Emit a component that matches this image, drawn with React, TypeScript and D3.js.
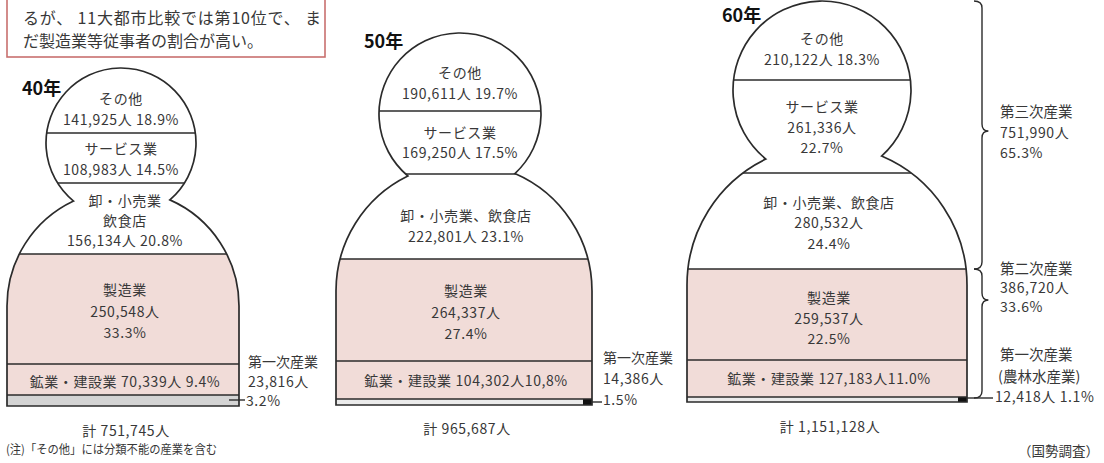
import React from "react";
import * as d3 from "d3";

// ---------------- data ----------------
const years = ["40年", "50年", "60年"];
const industries = ["その他", "サービス業", "卸・小売業、飲食店", "製造業", "鉱業・建設業", "第一次産業"];
const workers40 = [141925, 108983, 156134, 250548, 70339, 23816];
const workers50 = [190611, 169250, 222801, 264337, 104302, 14386];
const workers60 = [210122, 261336, 280532, 259537, 127183, 12418];
const shareLabels40 = ["18.9%", "14.5%", "20.8%", "33.3%", "9.4%", "3.2%"];
const shareLabels50 = ["19.7%", "17.5%", "23.1%", "27.4%", "10,8%", "1.5%"];
const shareLabels60 = ["18.3%", "22.7%", "24.4%", "22.5%", "11.0%", "1.1%"];
const totals = [751745, 965687, 1151128];
const sectorNames60 = ["第三次産業", "第二次産業", "第一次産業"];
const sectorWorkers60 = [751990, 386720, 12418];
const sectorShares60 = ["65.3%", "33.6%", "1.1%"];
const noteText = "(注)「その他」には分類不能の産業を含む";
const sourceText = "（国勢調査）";
const boxLines = ["るが、 11大都市比較では第10位で、 ま", "だ製造業等従事者の割合が高い。"];

// ---------------- layout ----------------
type Circle = { cx: number; cy: number; r: number };
type Block = { cat: number; lines: string[]; ys: number[] };
type Layout = {
  workers: number[];
  shares: string[];
  head: Circle;
  body: Circle;
  stops: number[]; // y range for cumulative shares (top .. bottom)
  title: [number, number];
  blocks: Block[];
  totalY: number;
  primaryFill: string;
  primaryMark: boolean;
  side?: { x: number; ys: number[]; leader: [number, number, number] };
};

const layouts: Layout[] = [
  {
    workers: workers40,
    shares: shareLabels40,
    head: { cx: 121, cy: 143, r: 75 },
    body: { cx: 123, cy: 306, r: 116 },
    stops: [68, 133, 183, 254, 364, 395, 406],
    title: [22, 87],
    blocks: [
      { cat: 0, lines: ["{name}", "{n} {p}"], ys: [98, 118.5] },
      { cat: 1, lines: ["{name}", "{n} {p}"], ys: [148, 169] },
      { cat: 2, lines: ["卸・小売業", "飲食店", "{n} {p}"], ys: [200, 220, 240] },
      { cat: 3, lines: ["{name}", "{n}", "{p}"], ys: [289, 311, 332] },
      { cat: 4, lines: ["{name} {n} {p}"], ys: [381] },
    ],
    totalY: 430,
    primaryFill: "#d4d4d4",
    primaryMark: false,
    side: { x: 248, ys: [361, 381, 400], leader: [229, 245, 400] },
  },
  {
    workers: workers50,
    shares: shareLabels50,
    head: { cx: 460, cy: 114, r: 81 },
    body: { cx: 464, cy: 291, r: 128 },
    stops: [33, 111, 174, 259, 361, 399, 405],
    title: [364, 40],
    blocks: [
      { cat: 0, lines: ["{name}", "{n} {p}"], ys: [72, 93] },
      { cat: 1, lines: ["{name}", "{n} {p}"], ys: [132, 152] },
      { cat: 2, lines: ["{name}", "{n} {p}"], ys: [215, 236] },
      { cat: 3, lines: ["{name}", "{n}", "{p}"], ys: [290, 312, 333] },
      { cat: 4, lines: ["{name} {n}{p}"], ys: [380] },
    ],
    totalY: 428,
    primaryFill: "#ebebeb",
    primaryMark: true,
    side: { x: 603, ys: [357, 378, 399], leader: [592, 602, 402] },
  },
  {
    workers: workers60,
    shares: shareLabels60,
    head: { cx: 822, cy: 90, r: 89 },
    body: { cx: 827, cy: 285, r: 140 },
    stops: [1, 80, 173, 269, 360, 397, 402],
    title: [722, 14],
    blocks: [
      { cat: 0, lines: ["{name}", "{n} {p}"], ys: [38, 59] },
      { cat: 1, lines: ["{name}", "{n}", "{p}"], ys: [106, 127, 147] },
      { cat: 2, lines: ["{name}", "{n}", "{p}"], ys: [202, 222, 243] },
      { cat: 3, lines: ["{name}", "{n}", "{p}"], ys: [297, 318, 338] },
      { cat: 4, lines: ["{name} {n}{p}"], ys: [378] },
    ],
    totalY: 426,
    primaryFill: "#ebebeb",
    primaryMark: true,
  },
];

const bandFills = ["#ffffff", "#ffffff", "#ffffff", "#f1dcd8", "#f1dcd8"];
const FONT = "'Noto Sans CJK JP', 'Noto Sans', sans-serif";
const INK = "#2b2b2b";
const TEXT = "#383838";
const fmt = d3.format(",");

function intersect(a: Circle, b: Circle) {
  const dx = b.cx - a.cx, dy = b.cy - a.cy;
  const d = Math.hypot(dx, dy);
  const l = (d * d + a.r * a.r - b.r * b.r) / (2 * d);
  const h = Math.sqrt(Math.max(0, a.r * a.r - l * l));
  const px = a.cx + (l * dx) / d, py = a.cy + (l * dy) / d;
  const p1 = [px + (h * dy) / d, py - (h * dx) / d];
  const p2 = [px - (h * dy) / d, py + (h * dx) / d];
  return p1[0] < p2[0] ? [p1, p2] : [p2, p1];
}

function outline(L: Layout): string {
  const { head, body } = L;
  const bottom = L.stops[L.stops.length - 1];
  const [pl, pr] = intersect(head, body);
  return (
    `M${pl[0]},${pl[1]}` +
    `A${head.r},${head.r} 0 1 1 ${pr[0]},${pr[1]}` +
    `A${body.r},${body.r} 0 0 1 ${body.cx + body.r},${body.cy}` +
    `L${body.cx + body.r},${bottom}` +
    `L${body.cx - body.r},${bottom}` +
    `L${body.cx - body.r},${body.cy}` +
    `A${body.r},${body.r} 0 0 1 ${pl[0]},${pl[1]}Z`
  );
}

function brace(x: number, y0: number, y1: number, ym: number, w = 8, d = 7): string {
  const p = d3.path();
  p.moveTo(x - w, y0);
  p.quadraticCurveTo(x, y0, x, y0 + d);
  p.lineTo(x, ym - d);
  p.quadraticCurveTo(x, ym, x + w * 0.8, ym);
  p.quadraticCurveTo(x, ym, x, ym + d);
  p.lineTo(x, y1 - d);
  p.quadraticCurveTo(x, y1, x - w, y1);
  return p.toString();
}

function fill(t: string, L: Layout, i: number) {
  return t
    .replace("{name}", industries[i])
    .replace("{n}", fmt(L.workers[i]) + "人")
    .replace("{p}", L.shares[i]);
}

function Figure({ L, idx }: { L: Layout; idx: number }) {
  const cum = [0, ...d3.cumsum(L.workers)];
  const y = d3.scaleLinear().domain(cum).range(L.stops);
  const d = outline(L);
  const x0 = Math.min(L.head.cx - L.head.r, L.body.cx - L.body.r) - 2;
  const x1 = Math.max(L.head.cx + L.head.r, L.body.cx + L.body.r) + 2;
  const clipId = `clip-${idx}`;
  const right = L.body.cx + L.body.r;
  const bottom = y(cum[cum.length - 1]);
  return (
    <g>
      <defs>
        <clipPath id={clipId}>
          <path d={d} />
        </clipPath>
      </defs>
      <g clipPath={`url(#${clipId})`}>
        {L.workers.map((_, i) => (
          <rect
            key={i}
            x={x0}
            width={x1 - x0}
            y={y(cum[i])}
            height={y(cum[i + 1]) - y(cum[i])}
            fill={i < 5 ? bandFills[i] : L.primaryFill}
          />
        ))}
        {L.primaryMark && (
          <rect x={right - 9} width={9} y={y(cum[5])} height={bottom - y(cum[5])} fill="#111" />
        )}
        {cum.slice(1, -1).map((c, i) => (
          <line key={i} x1={x0} x2={x1} y1={y(c)} y2={y(c)} stroke={INK} strokeWidth={1.6} />
        ))}
      </g>
      <path d={d} fill="none" stroke={INK} strokeWidth={1.7} />
      <text x={L.title[0]} y={L.title[1]} dominantBaseline="central" fontSize={18} fontWeight={700} fill="#111">
        {years[idx]}
      </text>
      {L.blocks.map((b) =>
        b.lines.map((t, j) => (
          <text
            key={`${b.cat}-${j}`}
            x={b.cat < 2 ? L.head.cx : L.body.cx + 2}
            y={b.ys[j]}
            textAnchor="middle"
            dominantBaseline="central"
            fontSize={14}
            letterSpacing={0.6}
            fill={TEXT}
          >
            {fill(t, L, b.cat)}
          </text>
        ))
      )}
      <text
        x={L.body.cx + 3}
        y={L.totalY}
        textAnchor="middle"
        dominantBaseline="central"
        fontSize={14}
        letterSpacing={0.6}
        fill={TEXT}
      >
        {"計 " + fmt(totals[idx]) + "人"}
      </text>
      {L.side && (
        <g>
          <text x={L.side.x} y={L.side.ys[0]} dominantBaseline="central" fontSize={14} fill={TEXT}>
            {industries[5]}
          </text>
          <text x={L.side.x} y={L.side.ys[1]} dominantBaseline="central" fontSize={14} letterSpacing={0.6} fill={TEXT}>
            {fmt(L.workers[5]) + "人"}
          </text>
          <line
            x1={L.side.leader[0]}
            x2={L.side.leader[1]}
            y1={L.side.leader[2]}
            y2={L.side.leader[2]}
            stroke={INK}
            strokeWidth={1.4}
          />
          <text x={L.side.leader[1] + 1} y={L.side.ys[2]} dominantBaseline="central" fontSize={14} letterSpacing={0.6} fill={TEXT}>
            {L.shares[5]}
          </text>
        </g>
      )}
    </g>
  );
}

export default function App() {
  const L60 = layouts[2];
  const bx = 982;
  return (
    <div style={{ position: "absolute", left: 0, top: 0 }}>
      <svg width={1104} height={463} style={{ display: "block", fontFamily: FONT }}>
        <rect width={1104} height={463} fill="#fff" />
        {/* comment box */}
        <rect x={7} y={-10} width={318} height={67} fill="none" stroke="#c8706e" strokeWidth={1.6} />
        <text x={23} y={17} dominantBaseline="central" fontSize={16} fill={TEXT} textLength={298} lengthAdjust="spacing">
          {boxLines[0]}
        </text>
        <text x={23} y={40} dominantBaseline="central" fontSize={16} fill={TEXT}>
          {boxLines[1]}
        </text>
        {layouts.map((L, i) => (
          <Figure key={i} L={L} idx={i} />
        ))}
        {/* sector braces for 60年 */}
        <path d={brace(bx, 1, L60.stops[3], 131)} fill="none" stroke={INK} strokeWidth={1.4} />
        <path d={brace(bx, L60.stops[3], L60.stops[6] - 4, 300)} fill="none" stroke={INK} strokeWidth={1.4} />
        <line x1={L60.body.cx + L60.body.r} x2={993} y1={398} y2={398} stroke={INK} strokeWidth={1.4} />
        {[0, 1].map((k) => (
          <g key={k}>
            <text x={1000} y={[110, 267][k]} dominantBaseline="central" fontSize={14.5} fill={TEXT}>
              {sectorNames60[k]}
            </text>
            <text x={1000} y={[132, 287][k]} dominantBaseline="central" fontSize={14} letterSpacing={0.6} fill={TEXT}>
              {fmt(sectorWorkers60[k]) + "人"}
            </text>
            <text x={1000} y={[152, 306][k]} dominantBaseline="central" fontSize={14} letterSpacing={0.6} fill={TEXT}>
              {sectorShares60[k]}
            </text>
          </g>
        ))}
        <text x={1000} y={353} dominantBaseline="central" fontSize={14.5} fill={TEXT}>
          {sectorNames60[2]}
        </text>
        <text x={998} y={375} dominantBaseline="central" fontSize={14.5} fill={TEXT}>
          (農林水産業)
        </text>
        <text x={995} y={396} dominantBaseline="central" fontSize={14} letterSpacing={0.6} fill={TEXT}>
          {fmt(sectorWorkers60[2]) + "人 " + sectorShares60[2]}
        </text>
        <text x={6} y={448} dominantBaseline="central" fontSize={12} fill={TEXT} textLength={211} lengthAdjust="spacingAndGlyphs">
          {noteText}
        </text>
        <text x={1018} y={450} dominantBaseline="central" fontSize={13.5} fill={TEXT}>
          {sourceText}
        </text>
      </svg>
    </div>
  );
}
